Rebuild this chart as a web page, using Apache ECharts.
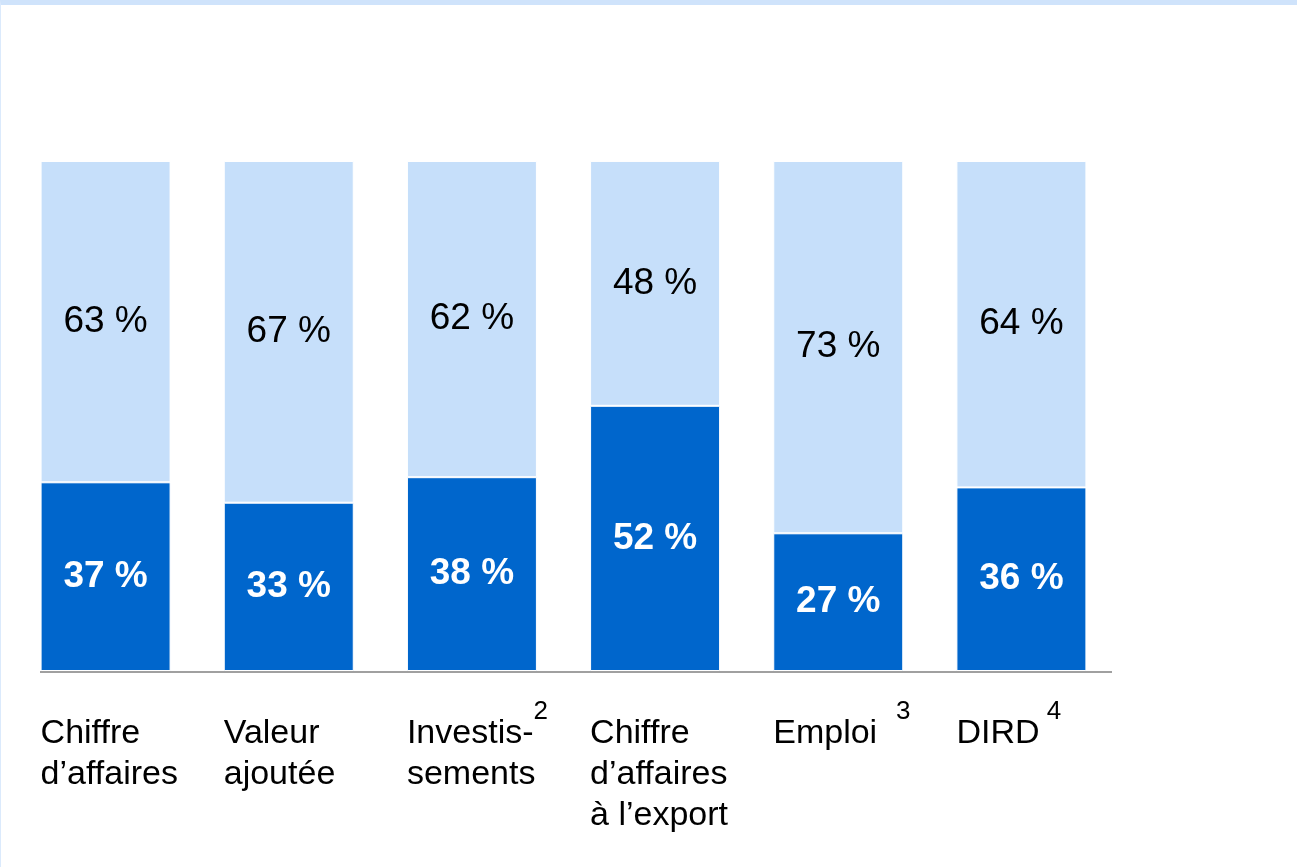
<!DOCTYPE html>
<html>
<head>
<meta charset="utf-8">
<script src="https://cdn.jsdelivr.net/npm/echarts@6/dist/echarts.min.js"></script>
<style>
  html, body { margin: 0; padding: 0; background: #fff; }
  #chart {
    width: 1296px;
    height: 862px;
    border-top: 5px solid #cfe3fb;
    border-left: 1px solid #dbeafc;
  }
</style>
</head>
<body>
<div id="chart"></div>
<script>
// categories (rich text, with footnote numbers as superscripts)
const categories = [
  '{a|Chiffre}\n{a|d’affaires}',
  '{a|Valeur}\n{a|ajoutée}',
  '{a|Investis-}{sup|2}\n{a|sements}',
  '{a|Chiffre}\n{a|d’affaires}\n{a|à l’export}',
  '{a|Emploi  }{sup|3}',
  '{a|DIRD}{sup| 4}'
]
// share of the two groups, in %
const darkValues = [37, 33, 38, 52, 27, 36]
const lightValues = [63, 67, 62, 48, 73, 64]

const chart = echarts.init(document.getElementById('chart'))

chart.setOption({
  animation: false,
  grid: {
    left: 13,
    right: 184,
    top: 156,
    bottom: 196
  },
  xAxis: {
    type: 'category',
    data: categories,
    axisLine: { show: false },
    axisTick: { show: false },
    axisLabel: {
      interval: 0,
      margin: 42,
      width: 130,
      overflow: 'none',
      align: 'center',
      verticalAlign: 'top',
      fontFamily: 'Liberation Sans',
      color: '#000',
      rich: {
        a: {
          fontSize: 34,
          lineHeight: 41,
          align: 'left',
          fontFamily: 'Liberation Sans',
          color: '#000'
        },
        sup: {
          fontSize: 26,
          lineHeight: 26,
          padding: [-14, 0, 0, 0],
          verticalAlign: 'top',
          align: 'left',
          fontFamily: 'Liberation Sans',
          color: '#000'
        }
      }
    }
  },
  yAxis: {
    type: 'value',
    min: 0,
    max: 100,
    show: false
  },
  series: [
    {
      name: 'dark',
      type: 'bar',
      stack: 'total',
      barWidth: 130,
      data: darkValues,
      itemStyle: {
        color: '#0066cc',
        borderColor: '#fff',
        borderWidth: 1
      },
      label: {
        show: true,
        position: 'inside',
        formatter: '{c} %',
        color: '#fff',
        fontWeight: 'bold',
        fontSize: 37,
        fontFamily: 'Liberation Sans'
      }
    },
    {
      name: 'light',
      type: 'bar',
      stack: 'total',
      barWidth: 130,
      data: lightValues,
      itemStyle: {
        color: '#c6dffa',
        borderColor: '#fff',
        borderWidth: 1
      },
      label: {
        show: true,
        position: 'inside',
        formatter: '{c} %',
        color: '#000',
        fontSize: 37,
        fontFamily: 'Liberation Sans'
      }
    }
  ],
  graphic: [
    {
      // base line under the bars
      type: 'line',
      shape: { x1: 39, y1: 667, x2: 1111, y2: 667 },
      style: { stroke: '#a0a0a0', lineWidth: 2 }
    }
  ]
})
</script>
</body>
</html>
